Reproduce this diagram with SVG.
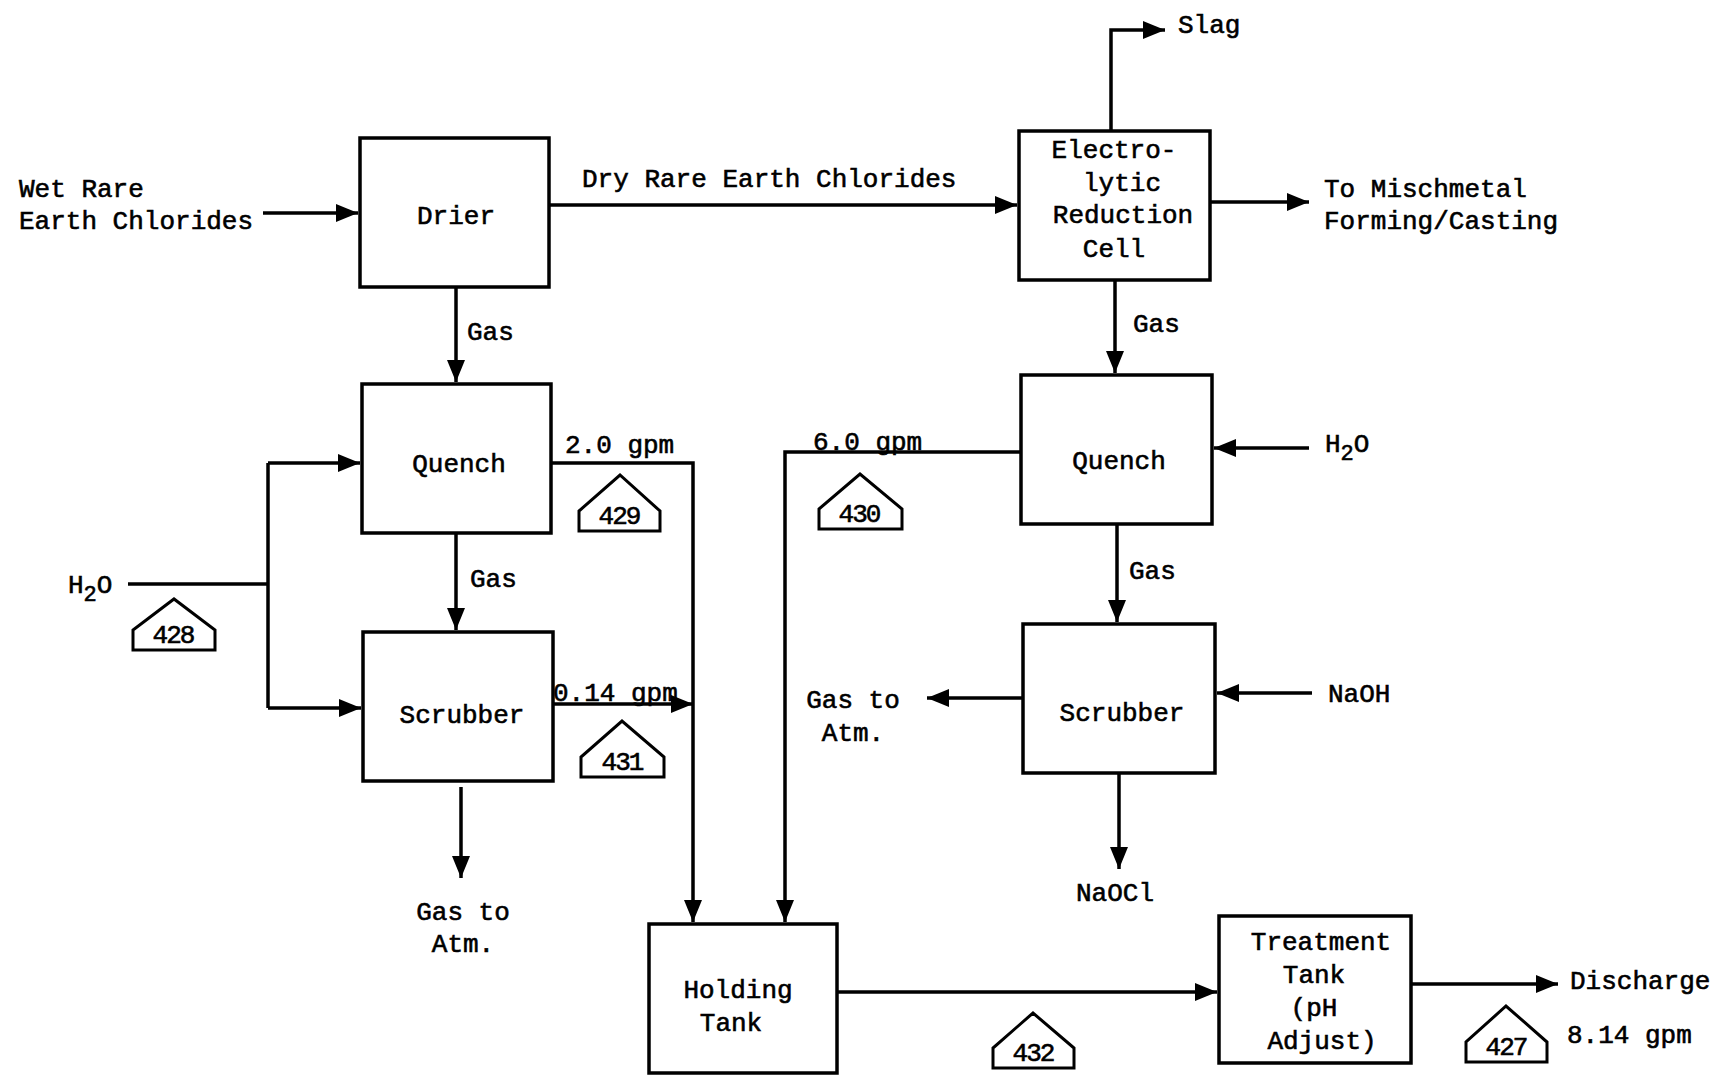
<svg xmlns="http://www.w3.org/2000/svg" width="1720" height="1084" viewBox="0 0 1720 1084">
<defs>
<marker id="ah" markerUnits="userSpaceOnUse" markerWidth="24" markerHeight="18" refX="22" refY="9" orient="auto">
<path d="M0,0 L22,9 L0,18 Z" fill="#000"/>
</marker>
<style>
.box{fill:#fff;stroke:#000;stroke-width:3.5}
.ln{fill:none;stroke:#000;stroke-width:3.5}
.ar{fill:none;stroke:#000;stroke-width:3.5;marker-end:url(#ah)}
.tag{fill:#fff;stroke:#000;stroke-width:3}
text{font-family:"Liberation Mono","DejaVu Sans Mono",monospace;font-size:26px;fill:#000;stroke:#000;stroke-width:0.6}
.c{text-anchor:middle}
.n{font-size:26px;text-anchor:middle;letter-spacing:-2px}
</style>
</defs>
<rect width="1720" height="1084" fill="#fff"/>

<g id="connectors">
<path class="ar" d="M263,213 H358"/>
<path class="ar" d="M549,205 H1017"/>
<path class="ar" d="M1111,131 V30 H1165"/>
<path class="ar" d="M1210,202 H1309"/>
<path class="ar" d="M1115,280 V373"/>
<path class="ar" d="M1309,448 H1214"/>
<path class="ar" d="M1021,452 H785 V922"/>
<path class="ar" d="M1117,524 V622"/>
<path class="ar" d="M1312,693 H1217"/>
<path class="ar" d="M1023,698 H927"/>
<path class="ar" d="M1119,773 V869"/>
<path class="ar" d="M456,287 V382"/>
<path class="ar" d="M551,463 H693 V922"/>
<path class="ln" d="M128,584 H268"/>
<path class="ln" d="M268,463 V708"/>
<path class="ar" d="M268,463 H360"/>
<path class="ar" d="M268,708 H361"/>
<path class="ar" d="M456,533 V630"/>
<path class="ar" d="M553,704 H693"/>
<path class="ar" d="M461,787 V878"/>
<path class="ar" d="M837,992 H1217"/>
<path class="ar" d="M1411,984 H1558"/>
</g>

<g id="drier">
<rect class="box" x="360" y="138" width="189" height="149"/>
<text class="c" x="456" y="224">Drier</text>
</g>
<g id="electrolytic-cell">
<rect class="box" x="1019" y="131" width="191" height="149"/>
<text class="c" x="1114" y="158">Electro-</text>
<text class="c" x="1122" y="191">lytic</text>
<text class="c" x="1123" y="223">Reduction</text>
<text class="c" x="1114" y="257">Cell</text>
</g>
<g id="quench-left">
<rect class="box" x="362" y="384" width="189" height="149"/>
<text class="c" x="459" y="472">Quench</text>
</g>
<g id="scrubber-left">
<rect class="box" x="363" y="632" width="190" height="149"/>
<text class="c" x="462" y="723">Scrubber</text>
</g>
<g id="quench-right">
<rect class="box" x="1021" y="375" width="191" height="149"/>
<text class="c" x="1119" y="469">Quench</text>
</g>
<g id="scrubber-right">
<rect class="box" x="1023" y="624" width="192" height="149"/>
<text class="c" x="1122" y="721">Scrubber</text>
</g>
<g id="holding-tank">
<rect class="box" x="649" y="924" width="188" height="149"/>
<text class="c" x="738" y="998">Holding</text>
<text class="c" x="731" y="1031">Tank</text>
</g>
<g id="treatment-tank">
<rect class="box" x="1219" y="916" width="192" height="147"/>
<text class="c" x="1321" y="950">Treatment</text>
<text class="c" x="1314" y="983">Tank</text>
<text class="c" x="1314" y="1016">(pH</text>
<text class="c" x="1322" y="1049">Adjust)</text>
</g>

<g id="labels">
<text x="19" y="197">Wet Rare</text>
<text x="19" y="229">Earth Chlorides</text>
<text x="582" y="187">Dry Rare Earth Chlorides</text>
<text x="1178" y="33">Slag</text>
<text x="1324" y="197">To Mischmetal</text>
<text x="1324" y="229">Forming/Casting</text>
<text x="1133" y="332">Gas</text>
<text x="1325" y="452">H<tspan dy="8" font-size="22">2</tspan><tspan dy="-8">O</tspan></text>
<text x="813" y="450">6.0 gpm</text>
<text x="1129" y="579">Gas</text>
<text x="1328" y="702">NaOH</text>
<text class="c" x="853" y="708">Gas to</text>
<text class="c" x="853" y="741">Atm.</text>
<text class="c" x="1115" y="901">NaOCl</text>
<text x="467" y="340">Gas</text>
<text x="565" y="453">2.0 gpm</text>
<text x="68" y="593">H<tspan dy="8" font-size="22">2</tspan><tspan dy="-8">O</tspan></text>
<text x="470" y="587">Gas</text>
<text x="553" y="701">0.14 gpm</text>
<text class="c" x="463" y="920">Gas to</text>
<text class="c" x="463" y="952">Atm.</text>
<text x="1570" y="989">Discharge</text>
<text x="1567" y="1043">8.14 gpm</text>
</g>

<g id="tag-428">
<path class="tag" d="M133,650 V630 L174,599 L215,630 V650 Z"/>
<text class="n" x="173" y="643">428</text>
</g>
<g id="tag-429">
<path class="tag" d="M579,531 V511 L620,475 L660,511 V531 Z"/>
<text class="n" x="619" y="524">429</text>
</g>
<g id="tag-430">
<path class="tag" d="M819,529 V509 L860,474 L902,509 V529 Z"/>
<text class="n" x="859" y="522">430</text>
</g>
<g id="tag-431">
<path class="tag" d="M581,777 V757 L622,721 L664,757 V777 Z"/>
<text class="n" x="622" y="770">431</text>
</g>
<g id="tag-432">
<path class="tag" d="M993,1068 V1048 L1033,1013 L1074,1048 V1068 Z"/>
<text class="n" x="1033" y="1061">432</text>
</g>
<g id="tag-427">
<path class="tag" d="M1466,1062 V1042 L1506,1006 L1547,1042 V1062 Z"/>
<text class="n" x="1506" y="1055">427</text>
</g>
</svg>
